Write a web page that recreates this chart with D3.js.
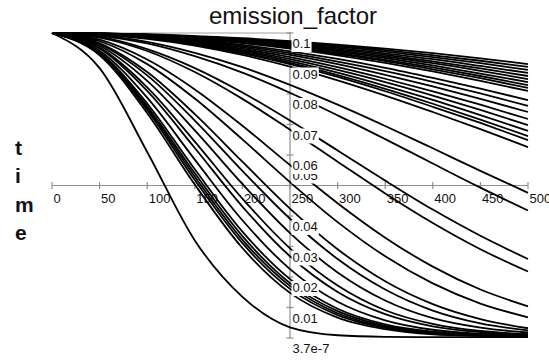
<!DOCTYPE html>
<html><head><meta charset="utf-8">
<script src="https://cdn.jsdelivr.net/npm/d3@7"></script>
<style>
html,body{margin:0;padding:0;background:#fff;}
svg{display:block;}
text{font-family:"Liberation Sans",Arial,Helvetica,sans-serif;}
</style>
</head><body>
<svg id="chart" width="549" height="360"></svg>
<script>
const chartTitle = "emission_factor";
const yTitleLetters = ["t", "i", "m", "e"];
const timeSteps = [0, 50, 100, 150, 200, 250, 300, 350, 400, 450, 500];
const xTickValues = [0, 50, 100, 150, 200, 250, 300, 350, 400, 450, 500];
const yTickValues = [3.7e-7, 0.01, 0.02, 0.03, 0.04, 0.05, 0.06, 0.07, 0.08, 0.09, 0.1];
const yTickLabels = ["3.7e-7", "0.01", "0.02", "0.03", "0.04", "0.05", "0.06", "0.07", "0.08", "0.09", "0.1"];

// emission_factor value of each run at every time step
const series = [
  [0.1, 0.0999, 0.0996, 0.0990, 0.0983, 0.0973, 0.0962, 0.0949, 0.0934, 0.0917, 0.0898],
  [0.1, 0.0999, 0.0995, 0.0989, 0.0981, 0.0971, 0.0958, 0.0944, 0.0927, 0.0909, 0.0889],
  [0.1, 0.0999, 0.0995, 0.0988, 0.0980, 0.0968, 0.0955, 0.0939, 0.0921, 0.0901, 0.0879],
  [0.1, 0.0999, 0.0994, 0.0987, 0.0978, 0.0965, 0.0951, 0.0933, 0.0914, 0.0892, 0.0869],
  [0.1, 0.0998, 0.0994, 0.0986, 0.0976, 0.0963, 0.0947, 0.0928, 0.0907, 0.0884, 0.0859],
  [0.1, 0.0998, 0.0993, 0.0985, 0.0974, 0.0960, 0.0943, 0.0923, 0.0901, 0.0876, 0.0849],
  [0.1, 0.0998, 0.0993, 0.0984, 0.0972, 0.0957, 0.0939, 0.0918, 0.0894, 0.0867, 0.0839],
  [0.1, 0.0998, 0.0993, 0.0983, 0.0971, 0.0954, 0.0935, 0.0912, 0.0887, 0.0859, 0.0829],
  [0.1, 0.0998, 0.0992, 0.0982, 0.0969, 0.0952, 0.0931, 0.0908, 0.0881, 0.0852, 0.0820],
  [0.1, 0.0998, 0.0992, 0.0981, 0.0967, 0.0949, 0.0927, 0.0902, 0.0874, 0.0843, 0.0810],
  [0.1, 0.0998, 0.0990, 0.0978, 0.0961, 0.0940, 0.0915, 0.0886, 0.0853, 0.0818, 0.0780],
  [0.1, 0.0997, 0.0989, 0.0976, 0.0957, 0.0934, 0.0906, 0.0875, 0.0840, 0.0802, 0.0761],
  [0.1, 0.0997, 0.0988, 0.0973, 0.0953, 0.0928, 0.0898, 0.0863, 0.0825, 0.0784, 0.0741],
  [0.1, 0.0997, 0.0987, 0.0971, 0.0948, 0.0921, 0.0888, 0.0850, 0.0809, 0.0765, 0.0718],
  [0.1, 0.0996, 0.0986, 0.0968, 0.0944, 0.0914, 0.0879, 0.0839, 0.0795, 0.0748, 0.0698],
  [0.1, 0.0996, 0.0985, 0.0966, 0.0940, 0.0908, 0.0870, 0.0827, 0.0781, 0.0731, 0.0679],
  [0.1, 0.0996, 0.0984, 0.0964, 0.0936, 0.0902, 0.0862, 0.0817, 0.0768, 0.0716, 0.0662],
  [0.1, 0.0996, 0.0983, 0.0962, 0.0933, 0.0898, 0.0856, 0.0809, 0.0758, 0.0705, 0.0649],
  [0.1, 0.0995, 0.0981, 0.0959, 0.0928, 0.0890, 0.0845, 0.0795, 0.0741, 0.0685, 0.0626],
  [0.1, 0.0993, 0.0971, 0.0935, 0.0888, 0.0830, 0.0765, 0.0695, 0.0622, 0.0548, 0.0476],
  [0.1, 0.0991, 0.0966, 0.0924, 0.0870, 0.0804, 0.0730, 0.0652, 0.0572, 0.0493, 0.0418],
  [0.1, 0.0987, 0.0947, 0.0885, 0.0805, 0.0713, 0.0615, 0.0516, 0.0421, 0.0335, 0.0259],
  [0.1, 0.0985, 0.0941, 0.0872, 0.0784, 0.0683, 0.0578, 0.0474, 0.0377, 0.0291, 0.0218],
  [0.1, 0.0978, 0.0913, 0.0815, 0.0696, 0.0567, 0.0442, 0.0329, 0.0234, 0.0159, 0.0104],
  [0.1, 0.0973, 0.0898, 0.0785, 0.0651, 0.0511, 0.0380, 0.0268, 0.0179, 0.0113, 0.0068],
  [0.1, 0.0966, 0.0872, 0.0734, 0.0578, 0.0424, 0.0291, 0.0186, 0.0111, 0.0062, 0.0032],
  [0.1, 0.0963, 0.0861, 0.0713, 0.0548, 0.0391, 0.0259, 0.0159, 0.0090, 0.0048, 0.0025],
  [0.1, 0.0958, 0.0843, 0.0681, 0.0505, 0.0344, 0.0215, 0.0123, 0.0065, 0.0034, 0.0018],
  [0.1, 0.0952, 0.0822, 0.0644, 0.0457, 0.0294, 0.0172, 0.0091, 0.0046, 0.0023, 0.0013],
  [0.1, 0.0949, 0.0810, 0.0623, 0.0431, 0.0268, 0.0151, 0.0078, 0.0038, 0.0019, 0.0011],
  [0.1, 0.0942, 0.0788, 0.0585, 0.0386, 0.0226, 0.0119, 0.0058, 0.0027, 0.0014, 0.0009],
  [0.1, 0.0936, 0.0769, 0.0553, 0.0349, 0.0193, 0.0096, 0.0045, 0.0021, 0.0011, 0.0007],
  [0.1, 0.0934, 0.0760, 0.0540, 0.0334, 0.0180, 0.0088, 0.0040, 0.0018, 0.0010, 0.0006],
  [0.1, 0.0932, 0.0754, 0.0529, 0.0322, 0.0171, 0.0081, 0.0036, 0.0016, 0.0009, 0.0006],
  [0.1, 0.0930, 0.0747, 0.0518, 0.0311, 0.0161, 0.0075, 0.0033, 0.0014, 0.0008, 0.0005],
  [0.1, 0.0927, 0.0737, 0.0503, 0.0295, 0.0148, 0.0067, 0.0029, 0.0012, 0.0007, 0.0005],
  [0.1, 0.0885, 0.0610, 0.0320, 0.0135, 0.0035, 0.0009, 0.0004, 0.0003, 0.0003, 0.0003]
];

const svg = d3.select("#chart");
const x = d3.scaleLinear().domain([0, 500]).range([52, 528]);
const y = d3.scaleLinear().domain([3.7e-7, 0.1]).range([338, 33]);
const axisColor = "#8f8f8f";
const axisX = x(250);
const axisY = y(0.05);

// title
svg.append("text").attr("x", 293).attr("y", 24).attr("text-anchor", "middle")
  .attr("font-size", 24).attr("fill", "#111").text(chartTitle);

// vertical "time" label
const tl = svg.append("text").attr("font-size", 21).attr("font-weight", "bold").attr("fill", "#111");
yTitleLetters.forEach((ch, i) => {
  tl.append("tspan").attr("x", 15).attr("y", 155 + i * 28.4).text(ch);
});

// axes
const axes = svg.append("g").attr("stroke", axisColor).attr("stroke-width", 1.2);
axes.append("line").attr("x1", x(0)).attr("x2", x(500)).attr("y1", axisY).attr("y2", axisY);
axes.append("line").attr("x1", axisX).attr("x2", axisX).attr("y1", y(0.1) - 1).attr("y2", y(3.7e-7));
axes.append("line").attr("x1", x(0)).attr("x2", x(250)).attr("y1", y(0.1)).attr("y2", y(0.1)).attr("stroke", "#a0a0a0").attr("stroke-width", 1);
xTickValues.forEach(t => {
  axes.append("line").attr("x1", x(t)).attr("x2", x(t)).attr("y1", axisY - 3.5).attr("y2", axisY + 3.5);
});
yTickValues.forEach(t => {
  axes.append("line").attr("x1", axisX - 3.5).attr("x2", axisX + 3.5).attr("y1", y(t)).attr("y2", y(t));
});

// x tick labels (under the curves)
svg.append("g").selectAll("text").data(xTickValues).join("text")
  .attr("x", d => x(d) + 1.5).attr("y", axisY + 17).attr("font-size", 13).attr("fill", "#111")
  .text(d => d);

// curves
const line = d3.line().x((d, i) => x(timeSteps[i])).y(d => y(d)).curve(d3.curveMonotoneX);
svg.append("g").selectAll("path").data(series).join("path")
  .attr("d", line).attr("fill", "none").attr("stroke", "#000").attr("stroke-width", 1.8);

// y tick labels with white boxes
const yl = svg.append("g");
yTickValues.forEach((t, i) => {
  const ty = y(t);
  const base = Math.abs(ty - axisY) < 4 ? ty - 6 : ty + 15;
  const g = yl.append("g");
  const rect = g.append("rect").attr("fill", "#fff");
  const txt = g.append("text").attr("x", axisX + 2.5).attr("y", base).attr("font-size", 13).attr("fill", "#111").text(yTickLabels[i]);
  const bb = txt.node().getBBox();
  rect.attr("x", bb.x - 1).attr("y", bb.y + 1).attr("width", bb.width + 2).attr("height", bb.height);
});
</script>
</body></html>
